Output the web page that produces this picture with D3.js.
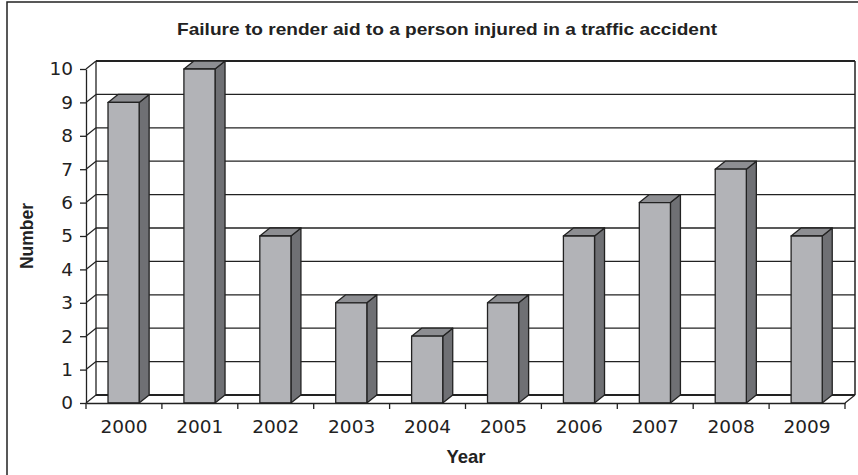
<!DOCTYPE html>
<html>
<head>
<meta charset="utf-8">
<script src="https://cdn.jsdelivr.net/npm/d3@7"></script>
<style>
  body { margin: 0; background: #fff; }
  svg { display: block; }
  .axis text { font-family: "DejaVu Sans", sans-serif; font-size: 18.5px; fill: #222; }
  .axis path, .axis line { stroke: #222; stroke-width: 1.3; }
</style>
</head>
<body>
<svg></svg>
<script>
var screen = {width: 858, height: 475};

var years = ["2000", "2001", "2002", "2003", "2004", "2005", "2006", "2007", "2008", "2009"];
var counts = [9, 10, 5, 3, 2, 3, 5, 6, 7, 5];
var yTicks = [0, 1, 2, 3, 4, 5, 6, 7, 8, 9, 10];

var depth = {dx: 10, dy: -8};
var colors = {front: "#b2b3b7", side: "#6f7074", top: "#8d8e92", line: "#222"};

var svg = d3.select("svg")
    .attr("width", screen.width)
    .attr("height", screen.height);

// outer frame (only left and top edges show)
svg.append("path")
    .attr("d", "M7,480V2H860")
    .attr("fill", "none")
    .attr("stroke", "#222")
    .attr("stroke-width", 1.5);

var xScale = d3.scaleBand().domain(years).range([86, 845]).padding(0);
var yScale = d3.scaleLinear().domain([0, 10]).range([403, 69]);

var x0 = xScale.range()[0], x1 = xScale.range()[1];
var y0 = yScale(0), yTop = yScale(10);

// back wall gridlines
var grid = svg.append("g").attr("id", "grid");
grid.selectAll("line.back")
    .data(yTicks)
    .enter()
    .append("line")
    .attr("x1", x0 + depth.dx)
    .attr("x2", x1 + depth.dx)
    .attr("y1", function(d){ return yScale(d) + depth.dy; })
    .attr("y2", function(d){ return yScale(d) + depth.dy; })
    .attr("stroke", colors.line)
    .attr("stroke-width", function(d){ return d == 0 || d == 10 ? 2 : 1.3; });

// side wall diagonals
grid.selectAll("line.side")
    .data(yTicks)
    .enter()
    .append("line")
    .attr("x1", x0)
    .attr("x2", x0 + depth.dx)
    .attr("y1", function(d){ return yScale(d); })
    .attr("y2", function(d){ return yScale(d) + depth.dy; })
    .attr("stroke", colors.line)
    .attr("stroke-width", 1.3);

// wall edges
grid.append("line")
    .attr("x1", x0 + depth.dx).attr("x2", x0 + depth.dx)
    .attr("y1", y0 + depth.dy).attr("y2", yTop + depth.dy)
    .attr("stroke", colors.line).attr("stroke-width", 1.3);
grid.append("line")
    .attr("x1", x1 + depth.dx).attr("x2", x1 + depth.dx)
    .attr("y1", y0 + depth.dy).attr("y2", yTop + depth.dy)
    .attr("stroke", colors.line).attr("stroke-width", 1.5);
grid.append("line")
    .attr("x1", x1).attr("x2", x1 + depth.dx)
    .attr("y1", y0).attr("y2", y0 + depth.dy)
    .attr("stroke", colors.line).attr("stroke-width", 1.3);

// bars
var bw = xScale.bandwidth();
var barW = bw * 0.41;
var barOff = bw * 0.29;

var bars = svg.append("g").attr("id", "bars")
    .selectAll("g")
    .data(years.map(function(y, i){ return {year: y, value: counts[i]}; }))
    .enter()
    .append("g")
    .attr("stroke", colors.line)
    .attr("stroke-width", 1.3)
    .attr("stroke-linejoin", "round");

bars.append("path")
    .attr("fill", colors.side)
    .attr("d", function(d){
        var x = xScale(d.year) + barOff + barW, yv = yScale(d.value);
        return "M" + x + "," + yv + "L" + (x + depth.dx) + "," + (yv + depth.dy)
            + "L" + (x + depth.dx) + "," + (y0 + depth.dy) + "L" + x + "," + y0 + "Z";
    });

bars.append("path")
    .attr("fill", colors.top)
    .attr("d", function(d){
        var x = xScale(d.year) + barOff, yv = yScale(d.value);
        return "M" + x + "," + yv + "L" + (x + depth.dx) + "," + (yv + depth.dy)
            + "L" + (x + barW + depth.dx) + "," + (yv + depth.dy) + "L" + (x + barW) + "," + yv + "Z";
    });

bars.append("rect")
    .attr("fill", colors.front)
    .attr("x", function(d){ return xScale(d.year) + barOff; })
    .attr("y", function(d){ return yScale(d.value); })
    .attr("width", barW)
    .attr("height", function(d){ return y0 - yScale(d.value); });

// y axis
var yAxis = d3.axisLeft(yScale).tickValues(yTicks).tickSize(6).tickPadding(7).tickSizeOuter(0);
svg.append("g")
    .attr("class", "axis")
    .attr("transform", "translate(" + x0 + ",0)")
    .call(yAxis)
    .call(function(g){ g.select(".domain").attr("stroke-width", 1.6); });

// x axis: labels at centers, ticks at category edges
var xAxis = d3.axisBottom(xScale).tickSize(0).tickPadding(17);
svg.append("g")
    .attr("class", "axis")
    .attr("transform", "translate(0," + y0 + ")")
    .call(xAxis)
    .call(function(g){ g.select(".domain").attr("stroke-width", 1.6); });

svg.append("g")
    .attr("class", "axis")
    .selectAll("line")
    .data(d3.range(years.length + 1))
    .enter()
    .append("line")
    .attr("x1", function(i){ return x0 + i * xScale.step(); })
    .attr("x2", function(i){ return x0 + i * xScale.step(); })
    .attr("y1", y0)
    .attr("y2", y0 + 6);

// titles
svg.append("text")
    .attr("x", 447)
    .attr("y", 35)
    .attr("text-anchor", "middle")
    .attr("font-family", "Liberation Sans Narrow, Liberation Sans, Arial, sans-serif")
    .attr("font-size", 17)
    .attr("font-weight", "bold")
    .attr("fill", "#222")
    .attr("textLength", 540)
    .attr("lengthAdjust", "spacingAndGlyphs")
    .text("Failure to render aid to a person injured in a traffic accident");

svg.append("text")
    .attr("transform", "translate(33,236) rotate(-90)")
    .attr("text-anchor", "middle")
    .attr("font-family", "Liberation Sans, Arial, sans-serif")
    .attr("font-size", 17.5)
    .attr("font-weight", "bold")
    .attr("fill", "#222")
    .text("Number");

svg.append("text")
    .attr("x", 466)
    .attr("y", 463)
    .attr("text-anchor", "middle")
    .attr("font-family", "Liberation Sans, Arial, sans-serif")
    .attr("font-size", 18.5)
    .attr("font-weight", "bold")
    .attr("fill", "#222")
    .text("Year");
</script>
</body>
</html>
